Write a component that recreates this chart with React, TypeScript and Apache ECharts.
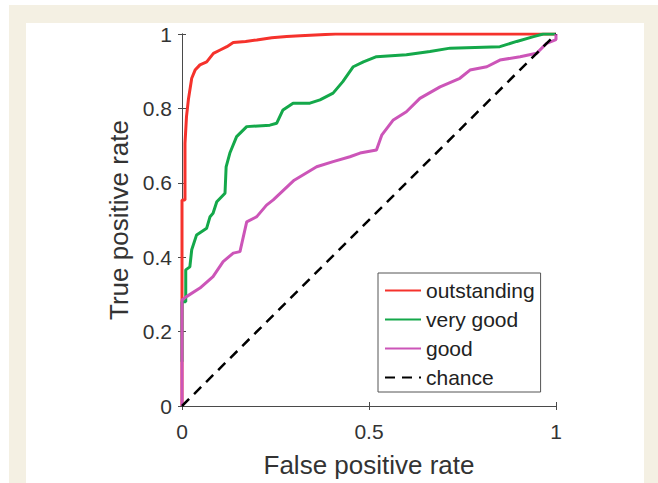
import React, { useEffect, useRef } from "react";
import * as echarts from "echarts";

const seriesNames = ["outstanding", "very good", "good", "chance"];
const xTickValues = [0, 0.5, 1];
const yTickValues = [0, 0.2, 0.4, 0.6, 0.8, 1];

const outstandingFpr = [0, 0, 0.008, 0.008, 0.012, 0.017, 0.026, 0.035, 0.048, 0.066, 0.084, 0.102, 0.12, 0.137, 0.17, 0.2, 0.24, 0.28, 0.316, 0.37, 0.41, 1];
const outstandingTpr = [0, 0.554, 0.554, 0.706, 0.778, 0.823, 0.881, 0.903, 0.917, 0.925, 0.948, 0.957, 0.966, 0.977, 0.98, 0.984, 0.99, 0.993, 0.995, 0.998, 1, 1];

const veryGoodFpr = [0, 0, 0.01, 0.01, 0.021, 0.026, 0.039, 0.066, 0.075, 0.083, 0.093, 0.115, 0.118, 0.128, 0.146, 0.173, 0.235, 0.253, 0.27, 0.297, 0.342, 0.369, 0.404, 0.43, 0.458, 0.485, 0.52, 0.6, 0.663, 0.717, 0.85, 0.895, 0.94, 0.966, 1];
const veryGoodTpr = [0.119, 0.28, 0.28, 0.366, 0.374, 0.42, 0.46, 0.478, 0.509, 0.518, 0.549, 0.572, 0.643, 0.68, 0.724, 0.751, 0.755, 0.76, 0.796, 0.814, 0.814, 0.823, 0.841, 0.872, 0.912, 0.925, 0.939, 0.944, 0.953, 0.962, 0.966, 0.98, 0.993, 1, 1];

const goodFpr = [0, 0, 0.012, 0.048, 0.083, 0.11, 0.137, 0.155, 0.173, 0.2, 0.226, 0.244, 0.3, 0.36, 0.404, 0.449, 0.476, 0.52, 0.534, 0.565, 0.6, 0.636, 0.69, 0.743, 0.77, 0.815, 0.85, 0.904, 0.948, 0.975, 1, 1];
const goodTpr = [0, 0.285, 0.294, 0.317, 0.348, 0.388, 0.411, 0.415, 0.495, 0.509, 0.54, 0.554, 0.607, 0.643, 0.657, 0.67, 0.68, 0.688, 0.728, 0.769, 0.791, 0.827, 0.858, 0.881, 0.903, 0.912, 0.93, 0.939, 0.948, 0.975, 0.985, 1];

const chanceFpr = [0, 1];
const chanceTpr = [0, 1];

const pairs = (xs: number[], ys: number[]) => xs.map((x, i) => [x, ys[i]]);

const FONT = "'Liberation Sans', Arial, Helvetica, sans-serif";

export default function App() {
  const ref = useRef<HTMLDivElement>(null);

  useEffect(() => {
    document.body.style.margin = "0";
    if (!ref.current) return;
    const chart = echarts.init(ref.current, null, { renderer: "svg" });
    const axisLine = { show: true, lineStyle: { color: "#4a4a4a", width: 1 } };
    const tick = { show: true, inside: true, length: 4, lineStyle: { color: "#4a4a4a", width: 1 } };
    chart.setOption({
      animation: false,
      textStyle: { fontFamily: FONT },
      grid: { left: 182, top: 34, width: 374, height: 372, show: false },
      legend: {
        orient: "vertical",
        left: 378,
        top: 273,
        data: seriesNames,
        itemWidth: 36,
        itemHeight: 12,
        itemGap: 8,
        padding: [7, 6, 4, 6],
        borderColor: "#555",
        borderWidth: 1,
        backgroundColor: "#fff",
        itemStyle: { opacity: 0 },
        textStyle: { fontSize: 21, color: "#222", fontFamily: FONT },
      },
      xAxis: [
        {
          type: "value",
          min: 0,
          max: 1,
          interval: 0.5,
          position: "bottom",
          axisLine,
          axisTick: tick,
          splitLine: { show: false },
          axisLabel: {
            fontSize: 21,
            color: "#333",
            margin: 15,
            formatter: (v: number) => (xTickValues.includes(v) ? String(v) : ""),
          },
          name: "False positive rate",
          nameLocation: "middle",
          nameGap: 46,
          nameTextStyle: { fontSize: 26, color: "#333", fontFamily: FONT },
        },
        {
          type: "value",
          min: 0,
          max: 1,
          interval: 0.5,
          position: "top",
          axisLine,
          axisTick: tick,
          splitLine: { show: false },
          axisLabel: { show: false },
        },
      ],
      yAxis: [
        {
          type: "value",
          min: 0,
          max: 1,
          interval: 0.2,
          position: "left",
          axisLine,
          axisTick: tick,
          splitLine: { show: false },
          axisLabel: {
            fontSize: 21,
            color: "#333",
            margin: 10,
            formatter: (v: number) => {
              const t = yTickValues.find((y) => Math.abs(y - v) < 1e-9);
              return t === undefined ? "" : String(t);
            },
          },
          name: "True positive rate",
          nameLocation: "middle",
          nameGap: 38,
          nameTextStyle: { fontSize: 26, color: "#333", fontFamily: FONT },
        },
        {
          type: "value",
          min: 0,
          max: 1,
          interval: 0.2,
          position: "right",
          axisLine,
          axisTick: tick,
          splitLine: { show: false },
          axisLabel: { show: false },
        },
      ],
      series: [
        {
          name: seriesNames[0],
          type: "line",
          data: pairs(outstandingFpr, outstandingTpr),
          symbol: "none",
          lineStyle: { color: "#f5322c", width: 3 },
          itemStyle: { color: "#f5322c" },
          z: 2,
        },
        {
          name: seriesNames[1],
          type: "line",
          data: pairs(veryGoodFpr, veryGoodTpr),
          symbol: "none",
          lineStyle: { color: "#14a84a", width: 3 },
          itemStyle: { color: "#14a84a" },
          z: 3,
        },
        {
          name: seriesNames[2],
          type: "line",
          data: pairs(goodFpr, goodTpr),
          symbol: "none",
          lineStyle: { color: "#cc55b8", width: 3 },
          itemStyle: { color: "#cc55b8" },
          z: 4,
        },
        {
          name: seriesNames[3],
          type: "line",
          data: pairs(chanceFpr, chanceTpr),
          symbol: "none",
          lineStyle: { color: "#000", width: 2.5, type: [10, 7] },
          itemStyle: { color: "#000" },
          z: 5,
        },
      ],
    });
    return () => chart.dispose();
  }, []);

  return (
    <div style={{ position: "relative", width: 658, height: 483, background: "#fff", overflow: "hidden" }}>
      <div style={{ position: "absolute", left: 9, top: 5, width: 649, height: 478, background: "#f4f0e3" }} />
      <div style={{ position: "absolute", left: 26, top: 23, width: 618, height: 460, background: "#fff" }} />
      <div ref={ref} style={{ position: "absolute", left: 0, top: 0, width: 658, height: 483 }} />
    </div>
  );
}
